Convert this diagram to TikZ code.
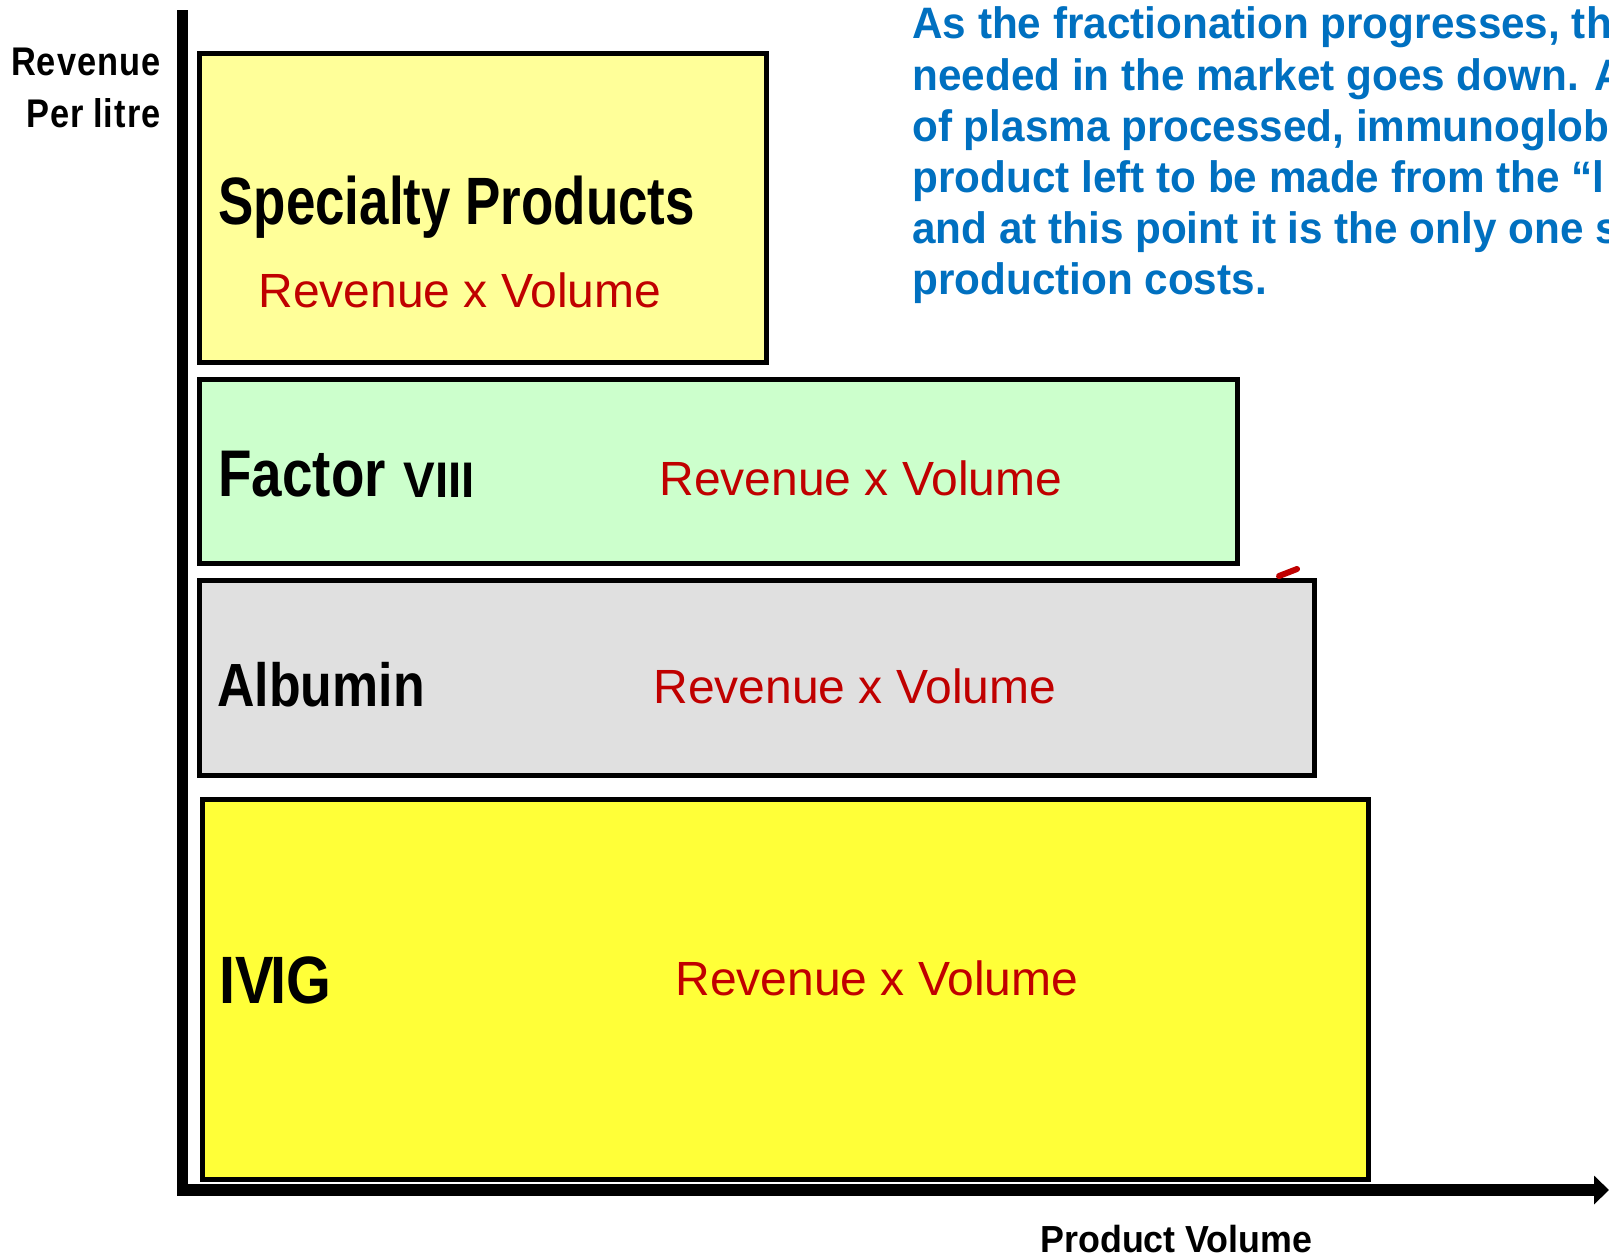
\documentclass[tikz,border=0pt]{standalone}
\usepackage{fontspec}
\usepackage{graphicx}
\setmainfont{Liberation Sans}
\usetikzlibrary{arrows.meta}
\definecolor{revred}{HTML}{C00000}
\definecolor{noteblue}{HTML}{0070C0}
\definecolor{specfill}{HTML}{FFFF99}
\definecolor{factfill}{HTML}{CCFFCC}
\definecolor{albfill}{HTML}{E0E0E0}
\definecolor{ivigfill}{HTML}{FFFF38}
\tikzset{
  box/.style={draw=black, line width=2.5pt},
  lbl/.style={anchor=base west, inner sep=0pt, text=black},
  rv/.style={anchor=base west, inner sep=0pt, text=revred, font=\fontsize{24}{28}\selectfont},
  note/.style={anchor=base west, inner sep=0pt, text=noteblue, font=\fontsize{22}{26}\selectfont\bfseries},
  axis/.style={line width=5.8pt, draw=black}
}
\begin{document}
\begin{tikzpicture}[x=0.5pt, y=-0.5pt]
\useasboundingbox (0,0) rectangle (1609,1258);
\fill[white] (0,0) rectangle (1609,1258);

% boxes
\draw[box, fill=specfill] (199.5,53) rectangle (766,362);
\draw[box, fill=factfill] (199.5,379) rectangle (1237,563);
\draw[box, fill=albfill] (199.5,580) rectangle (1314,775);
\draw[box, fill=ivigfill] (202,799) rectangle (1368,1179);

% small red mark
\draw[revred, line width=3pt, line cap=round] (1279,576) -- (1297,569);

% axes
\coordinate (ytop) at (182.5,10);
\coordinate (xend) at (1609,1190);
\draw[axis, line cap=butt] (ytop) -- (182.5,1196);
\draw[axis, -{Triangle[length=7.5pt, width=14pt]}] (177,1190) -- (xend);

% axis labels
\node[anchor=base east, inner sep=0pt] (ylab1) at (161,75)
  {\scalebox{0.86}[1]{\fontsize{20}{24}\selectfont\bfseries R\kern0.03em e\kern0.03em v\kern0.03em e\kern0.03em n\kern0.03em u\kern0.03em e}};
\node[anchor=base east, inner sep=0pt] (ylab2) at (161,127)
  {\scalebox{0.86}[1]{\fontsize{20}{24}\selectfont\bfseries P\kern0.03em e\kern0.03em r l\kern0.03em i\kern0.03em t\kern0.03em r\kern0.03em e}};
\node[lbl] (xlab) at (1040,1252)
  {\scalebox{0.95}[1]{\fontsize{18.85}{22}\selectfont\bfseries Product Volume}};

% box labels
\node[lbl] (spec) at (218,224)
  {\scalebox{0.79}[1]{\fontsize{33.5}{40}\selectfont\bfseries Specialty Products}};
\node[rv] (specrv) at (258,307) {Revenue x Volume};

\node[lbl] (fact) at (218,496)
  {\scalebox{0.83}[1]{\fontsize{33}{40}\selectfont\bfseries Factor}};
\node[lbl] (factviii) at (403,497)
  {\scalebox{0.95}[1]{\fontsize{25}{30}\selectfont\bfseries VIII}};
\node[rv] (factrv) at (659,495) {Revenue x Volume};

\node[lbl] (alb) at (217,706)
  {\scalebox{0.85}[1]{\fontsize{30.5}{36}\selectfont\bfseries Albumin}};
\node[rv] (albrv) at (653,703) {Revenue x Volume};

\node[lbl] (ivig) at (219,1003)
  {\scalebox{0.86}[1]{\fontsize{33.5}{40}\selectfont\bfseries IV\kern-0.06em IG}};
\node[rv] (ivigrv) at (675,995) {Revenue x Volume};

% note text (cut at the right edge, as in the reference)
\begin{scope}
\clip (0,0) rectangle (1609,1258);
\node[note] (n1) at (912,39)  {\scalebox{0.96}[1]{As the fractionation progresses, th}};
\node[note] (n2) at (912,90)  {\scalebox{0.96}[1]{needed in the market goes down. A}};
\node[note] (n3) at (912,141) {\scalebox{0.96}[1]{of plasma processed, immunoglob}};
\node[note] (n4) at (912,192) {\scalebox{0.96}[1]{product left to be made from the “l}};
\node[note] (n5) at (912,243) {\scalebox{0.96}[1]{and at this point it is the only one s}};
\node[note] (n6) at (912,294) {\scalebox{0.96}[1]{production costs.}};
\end{scope}
\end{tikzpicture}
\end{document}
